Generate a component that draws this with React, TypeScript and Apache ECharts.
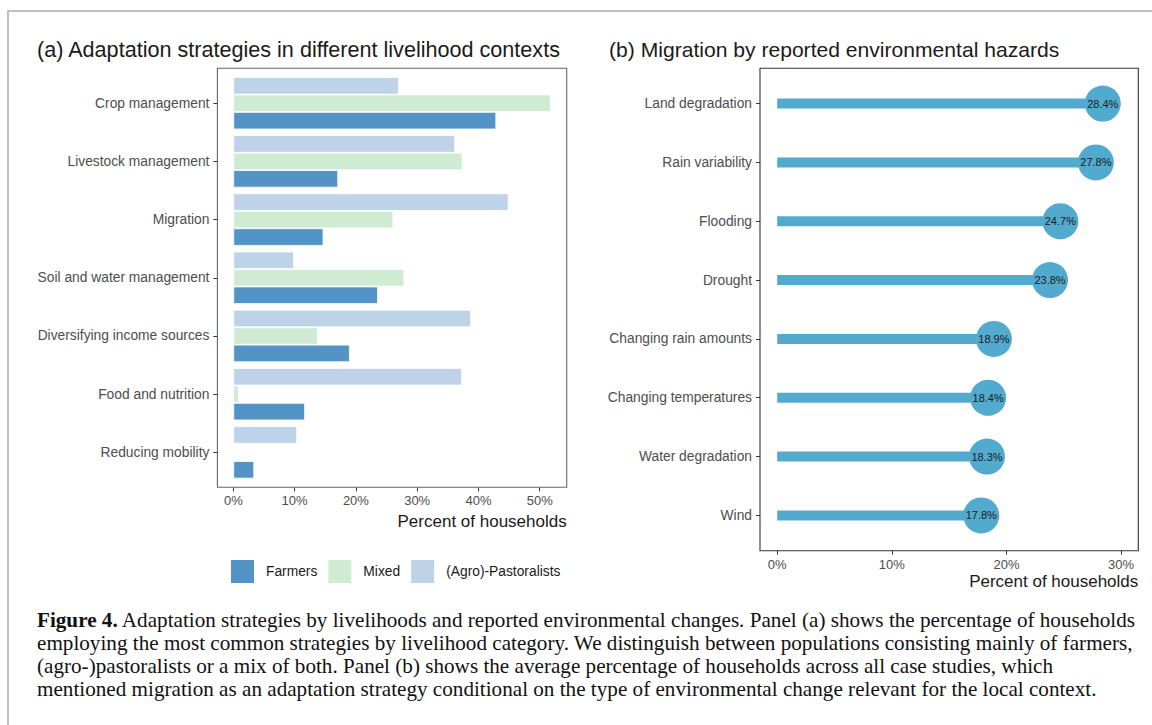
import React, { useEffect, useRef } from 'react';
import * as echarts from 'echarts';

const strategies = [
  'Crop management',
  'Livestock management',
  'Migration',
  'Soil and water management',
  'Diversifying income sources',
  'Food and nutrition',
  'Reducing mobility',
];
const farmers = [42.9, 17.1, 14.7, 23.6, 19.0, 11.7, 3.4];
const mixed: (number | null)[] = [51.8, 37.4, 26.1, 27.9, 13.8, 0.9, null];
const pastoralists = [27.0, 36.2, 44.9, 9.9, 38.8, 37.3, 10.4];

const hazards = [
  'Land degradation',
  'Rain variability',
  'Flooding',
  'Drought',
  'Changing rain amounts',
  'Changing temperatures',
  'Water degradation',
  'Wind',
];
const migrationShare = [28.4, 27.8, 24.7, 23.8, 18.9, 18.4, 18.3, 17.8];

const ticksA = [0, 10, 20, 30, 40, 50];
const ticksB = [0, 10, 20, 30];

const titleA = '(a) Adaptation strategies in different livelihood contexts';
const titleB = '(b) Migration by reported environmental hazards';
const axisTitle = 'Percent of households';
const legendNames = ['Farmers', 'Mixed', '(Agro)-Pastoralists'];
const captionLines = [
  '{b|Figure 4.} Adaptation strategies by livelihoods and reported environmental changes. Panel (a) shows the percentage of households',
  'employing the most common strategies by livelihood category. We distinguish between populations consisting mainly of farmers,',
  '(agro-)pastoralists or a mix of both. Panel (b) shows the average percentage of households across all case studies, which',
  'mentioned migration as an adaptation strategy conditional on the type of environmental change relevant for the local context.',
];

const SANS = '"Liberation Sans", Arial, Helvetica, sans-serif';
const SERIF = '"Liberation Serif", "Times New Roman", serif';
const C_FARM = '#5393c5';
const C_MIX = '#cfecd2';
const C_PAST = '#bed2e8';
const C_LOLLI = '#52abcf';

export default function App() {
  const ref = useRef<HTMLDivElement>(null);
  useEffect(() => {
    if (!ref.current) return;
    const chart = echarts.init(ref.current, null, { renderer: 'svg' });

    const fA = { x: 217.4, y: 68.3, w: 349.3, h: 419 };
    const bandA = fA.h / 7.2;
    const fB = { x: 760, y: 68.3, w: 378.3, h: 482.4 };
    const bandB = fB.h / 8.2;

    const tickStyle = { show: true, length: 4, lineStyle: { color: '#333', width: 1 } };

    const option: any = {
      animation: false,
      backgroundColor: '#fff',
      textStyle: { fontFamily: SANS },
      grid: [
        { left: fA.x, top: fA.y + 0.1 * bandA, width: fA.w, height: 7 * bandA, containLabel: false },
        { left: fB.x, top: fB.y + 0.1 * bandB, width: fB.w, height: 8 * bandB, containLabel: false },
      ],
      xAxis: [
        {
          type: 'value', gridIndex: 0, min: -2.6, max: 54.4, offset: 0.1 * bandA,
          axisLine: { show: false, onZero: false }, splitLine: { show: false },
          axisTick: { ...tickStyle, customValues: ticksA },
          axisLabel: { customValues: ticksA, formatter: '{value}%', margin: 7, fontSize: 13, color: '#4d4d4d', fontFamily: SANS },
        },
        {
          type: 'value', gridIndex: 1, min: -1.5, max: 31.5, offset: 0.1 * bandB,
          axisLine: { show: false, onZero: false }, splitLine: { show: false },
          axisTick: { ...tickStyle, customValues: ticksB },
          axisLabel: { customValues: ticksB, formatter: '{value}%', margin: 7, fontSize: 13, color: '#4d4d4d', fontFamily: SANS },
        },
      ],
      yAxis: [
        {
          type: 'category', gridIndex: 0, data: strategies, inverse: true,
          axisLine: { show: false, onZero: false }, splitLine: { show: false },
          axisTick: { ...tickStyle, alignWithLabel: true },
          axisLabel: { margin: 8, fontSize: 13.8, color: '#4d4d4d', fontFamily: SANS },
        },
        {
          type: 'category', gridIndex: 1, data: hazards, inverse: true,
          axisLine: { show: false, onZero: false }, splitLine: { show: false },
          axisTick: { ...tickStyle, alignWithLabel: true },
          axisLabel: { margin: 8, fontSize: 13.8, color: '#4d4d4d', fontFamily: SANS },
        },
      ],
      legend: {
        data: legendNames, left: 229, top: 558, padding: 0, itemWidth: 25, itemHeight: 25, itemGap: 9,
        icon: 'rect', selectedMode: false,
        textStyle: { fontSize: 13.8, color: '#1a1a1a', fontFamily: SANS, padding: [0, 0, 0, 6] },
      },
      series: [
        {
          name: '(Agro)-Pastoralists', type: 'bar', xAxisIndex: 0, yAxisIndex: 0, data: pastoralists,
          barCategoryGap: '10%', barGap: '0%',
          itemStyle: { color: C_PAST, borderColor: '#fff', borderWidth: 0.8 },
        },
        {
          name: 'Mixed', type: 'bar', xAxisIndex: 0, yAxisIndex: 0, data: mixed,
          barCategoryGap: '10%', barGap: '0%',
          itemStyle: { color: C_MIX, borderColor: '#fff', borderWidth: 0.8 },
        },
        {
          name: 'Farmers', type: 'bar', xAxisIndex: 0, yAxisIndex: 0, data: farmers,
          barCategoryGap: '10%', barGap: '0%',
          itemStyle: { color: C_FARM, borderColor: '#fff', borderWidth: 0.8 },
        },
        {
          name: 'segment', type: 'bar', xAxisIndex: 1, yAxisIndex: 1, data: migrationShare,
          barWidth: 10, itemStyle: { color: C_LOLLI }, z: 2,
        },
        {
          name: 'point', type: 'scatter', xAxisIndex: 1, yAxisIndex: 1,
          data: migrationShare.map((v, i) => [v, hazards[i]]),
          symbol: 'circle', symbolSize: 36, itemStyle: { color: C_LOLLI, opacity: 1 }, z: 3,
          label: {
            show: true, position: 'inside', fontSize: 11, color: '#1a1a1a', fontFamily: SANS,
            formatter: (p: any) => p.value[0].toFixed(1) + '%',
          },
        },
      ],
      graphic: [
        {
          type: 'rect', silent: true, z: -10,
          shape: { x: 8, y: 11, width: 1200, height: 800 },
          style: { fill: 'none', stroke: '#aaaaaa', lineWidth: 1.5 },
        },
        {
          type: 'rect', silent: true, z: 10,
          shape: { x: fA.x, y: fA.y, width: fA.w, height: fA.h },
          style: { fill: 'none', stroke: '#666', lineWidth: 1.1 },
        },
        {
          type: 'rect', silent: true, z: 10,
          shape: { x: fB.x, y: fB.y, width: fB.w, height: fB.h },
          style: { fill: 'none', stroke: '#333', lineWidth: 1.1 },
        },
        {
          type: 'text', x: 37, y: 49,
          style: { text: titleA, fontSize: 21.6, fontFamily: SANS, fill: '#1a1a1a', align: 'left', verticalAlign: 'middle' },
        },
        {
          type: 'text', x: 609, y: 49,
          style: { text: titleB, fontSize: 21.1, fontFamily: SANS, fill: '#1a1a1a', align: 'left', verticalAlign: 'middle' },
        },
        {
          type: 'text', x: fA.x + fA.w, y: 521,
          style: { text: axisTitle, fontSize: 17, fontFamily: SANS, fill: '#1a1a1a', align: 'right', verticalAlign: 'middle' },
        },
        {
          type: 'text', x: fB.x + fB.w, y: 581.5,
          style: { text: axisTitle, fontSize: 17, fontFamily: SANS, fill: '#1a1a1a', align: 'right', verticalAlign: 'middle' },
        },
        ...captionLines.map((t, i) => ({
          type: 'text', x: 37, y: 620 + i * 23, scaleX: 1.058,
          style: {
            text: t, fontSize: 20, fontFamily: SERIF, fill: '#111', align: 'left', verticalAlign: 'middle',
            rich: { b: { fontWeight: 'bold', fontSize: 20, fontFamily: SERIF, fill: '#111' } },
          },
        })),
      ],
    };
    chart.setOption(option);
    return () => chart.dispose();
  }, []);
  return (
    <div
      ref={ref}
      style={{ position: 'absolute', left: 0, top: 0, width: 1152, height: 725, background: '#fff' }}
    />
  );
}
